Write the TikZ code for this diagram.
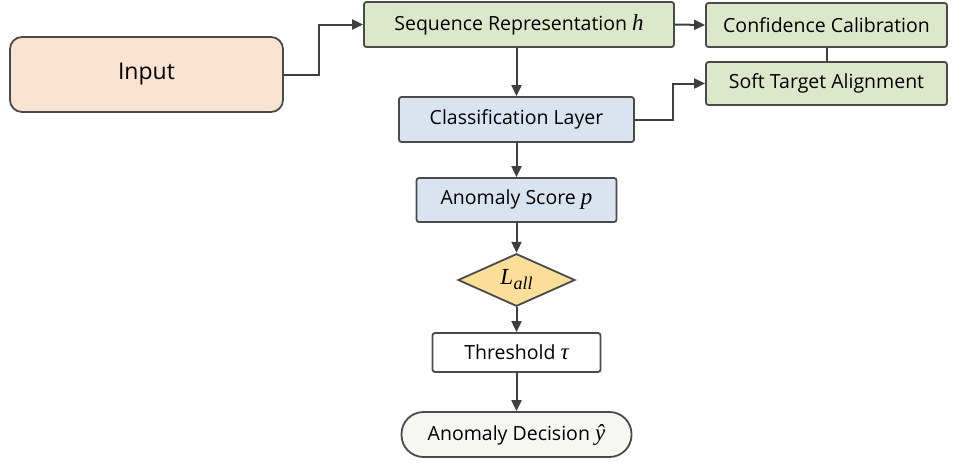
\documentclass[tikz,border=0pt]{standalone}
\usepackage{fontspec}
\setmainfont{Open Sans}
\newfontfamily\varfont{Liberation Serif}
\usetikzlibrary{shapes.geometric,arrows.meta,calc}
\definecolor{edgec}{HTML}{3F3F3F}
\definecolor{boxline}{HTML}{4A4A4A}
\definecolor{peach}{HTML}{FBE3D2}
\definecolor{greenf}{HTML}{DDE8CA}
\definecolor{bluef}{HTML}{DAE4F1}
\definecolor{goldf}{HTML}{FBDF98}
\definecolor{grayf}{HTML}{F6F6F4}
\newcommand{\mv}[1]{{\varfont\itshape\fontsize{23}{24}\selectfont #1}}
\begin{document}
\begin{tikzpicture}[x=1pt,y=-1pt,
  box/.style={draw=boxline,line width=1.8pt,rounded corners=2.5pt,inner sep=0pt,font=\fontsize{19.5}{22}\selectfont},
  greenbox/.style={box,fill=greenf},
  bluebox/.style={box,fill=bluef},
  conn/.style={draw=edgec,line width=2pt},
  arr/.style={conn,-{Triangle[length=11pt,width=10pt]}}]
\useasboundingbox (0,0) rectangle (953,464);
\node[box,fill=peach,rounded corners=12pt,minimum width=273pt,minimum height=75pt,font=\fontsize{23}{26}\selectfont] (in) at (146.5,74.5) {Input};
\node[greenbox,minimum width=310pt,minimum height=45pt] (seq) at (519,24.5) {Sequence Representation \mv{h}};
\node[greenbox,minimum width=241pt,minimum height=44pt] (conf) at (826.5,25) {Confidence Calibration};
\node[greenbox,minimum width=241pt,minimum height=43pt] (soft) at (826.5,83.5) {Soft Target Alignment};
\node[bluebox,minimum width=235pt,minimum height=45pt] (cls) at (516.5,119.5) {Classification Layer};
\node[bluebox,minimum width=200pt,minimum height=44pt] (score) at (516.5,200) {Anomaly Score \mv{p}};
\node[draw=boxline,line width=1.8pt,fill=goldf,diamond,inner sep=0pt,minimum width=117pt,minimum height=47pt] (dia) at (516.5,280) {\mv{L\kern0.5pt\raisebox{-5pt}{\fontsize{18}{20}\selectfont all}}};
\node[box,fill=white,minimum width=168pt,minimum height=39pt] (thr) at (516.5,352.5) {Threshold \mv{τ}};
\node[box,fill=grayf,rounded corners=22pt,minimum width=230pt,minimum height=45pt] (dec) at (516.5,434.5) {Anomaly Decision \mv{ŷ}};
\draw[arr] (in.east) -- ++(35,0) |- (seq.west);
\draw[arr] (seq.east) -- (conf.west);
\draw[arr] (seq.south -| cls.north) -- (cls.north);
\draw[arr] (cls.east) -- ++(38,0) |- (soft.west);
\draw[conn] (conf.south) -- (soft.north);
\draw[arr] (cls.south) -- (score.north);
\draw[arr] (score.south) -- (dia.north);
\draw[arr] (dia.south) -- (thr.north);
\draw[arr] (thr.south) -- (dec.north);
\end{tikzpicture}
\end{document}
